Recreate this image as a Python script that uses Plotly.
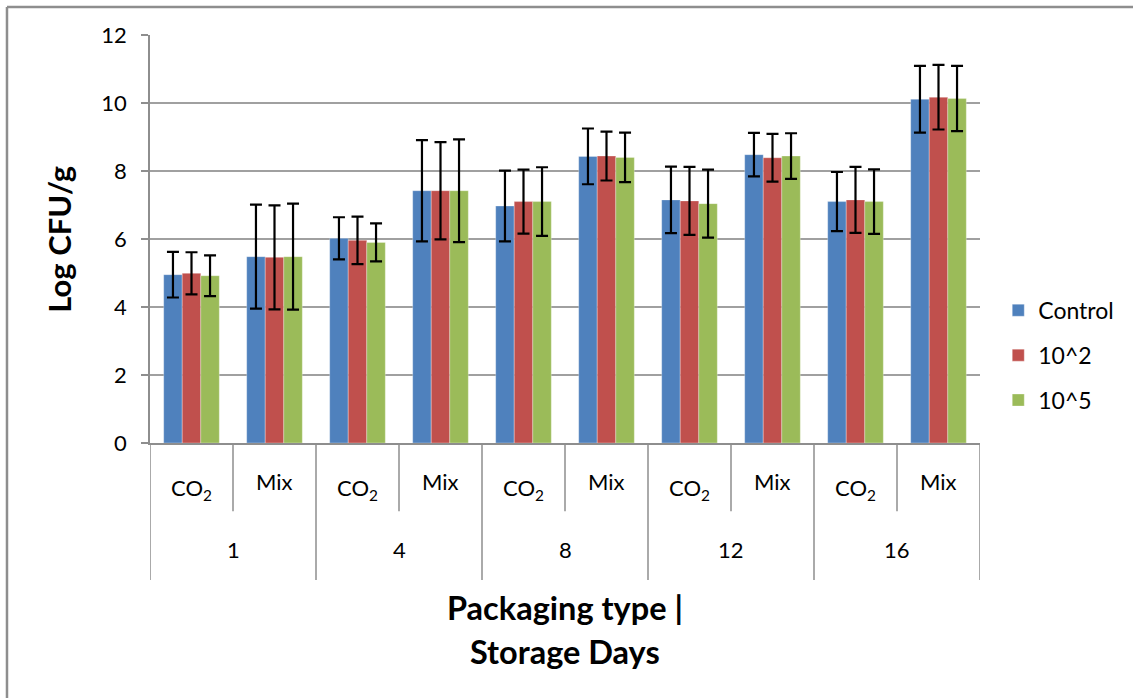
import plotly.graph_objects as go

days = ["1", "4", "8", "12", "16"]
packaging = ["CO<sub>2</sub>", "Mix"]
series_names = ["Control", "10^2", "10^5"]
colors = ["#4F81BD", "#C0504D", "#9BBB59"]

control = [4.95, 5.48, 6.02, 7.42, 6.97, 8.43, 7.15, 8.48, 7.10, 10.11]
control_err = [0.67, 1.53, 0.62, 1.49, 1.04, 0.82, 0.98, 0.64, 0.87, 0.98]
e2 = [4.99, 5.46, 5.96, 7.42, 7.10, 8.44, 7.12, 8.39, 7.15, 10.17]
e2_err = [0.62, 1.53, 0.70, 1.43, 0.94, 0.72, 1.00, 0.70, 0.97, 0.95]
e5 = [4.92, 5.48, 5.90, 7.42, 7.10, 8.40, 7.04, 8.44, 7.10, 10.13]
e5_err = [0.60, 1.56, 0.56, 1.51, 1.01, 0.73, 1.00, 0.67, 0.95, 0.96]

y_ticks = [0, 2, 4, 6, 8, 10, 12]

FONT = "Lato, 'Open Sans', sans-serif"
GRAY = "#8e8e8e"

n = len(days) * len(packaging)
xpos = list(range(n))

fig = go.Figure()
for name, vals, errs, col in zip(series_names, [control, e2, e5],
                                 [control_err, e2_err, e5_err], colors):
    fig.add_trace(go.Bar(
        x=xpos, y=vals, name=name, legendgroup=name,
        marker=dict(color=col, line=dict(width=0.6, color="rgba(255,255,255,0.5)")),
        error_y=dict(type="data", array=errs, visible=True,
                     color="black", thickness=2.2, width=6),
    ))

shapes = []
# category divider lines below the axis
for i in range(n + 1):
    outer = (i % len(packaging) == 0)
    shapes.append(dict(type="line", xref="x", yref="paper",
                       x0=i - 0.5, x1=i - 0.5, y0=0,
                       y1=-0.336 if outer else -0.167,
                       line=dict(color=GRAY, width=1.5)))
# outer frame
shapes.append(dict(type="line", xref="paper", yref="paper",
                   x0=-0.1723, x1=-0.1723, y0=1.0686, y1=-0.63,
                   line=dict(color=GRAY, width=2.5)))
shapes.append(dict(type="line", xref="paper", yref="paper",
                   x0=-0.1723, x1=1.19, y0=1.0686, y1=1.0686,
                   line=dict(color=GRAY, width=2.5)))

annotations = []
for d_i, d in enumerate(days):
    for p_i, p in enumerate(packaging):
        idx = d_i * len(packaging) + p_i
        annotations.append(dict(
            x=idx, y=-0.094 if p_i == 1 else -0.113, xref="x", yref="paper",
            text=p, showarrow=False, yanchor="middle",
            font=dict(size=22, color="black", family=FONT)))
    annotations.append(dict(
        x=d_i * len(packaging) + (len(packaging) - 1) / 2, y=-0.262,
        xref="x", yref="paper", text=d, showarrow=False, yanchor="middle",
        font=dict(size=22, color="black", family=FONT)))

annotations.append(dict(x=0.5, y=-0.402, xref="paper", yref="paper",
                        text="<b>Packaging type |</b>", showarrow=False,
                        yanchor="middle",
                        font=dict(size=32.5, color="black", family=FONT)))
annotations.append(dict(x=0.5, y=-0.512, xref="paper", yref="paper",
                        text="<b>Storage Days</b>", showarrow=False,
                        yanchor="middle",
                        font=dict(size=32.5, color="black", family=FONT)))
annotations.append(dict(x=-0.11, y=0.5, xref="paper", yref="paper",
                        text="<b>Log CFU/g</b>", showarrow=False, textangle=-90,
                        xanchor="center", yanchor="middle",
                        font=dict(size=31, color="black", family=FONT)))

fig.update_layout(
    width=1133, height=698,
    margin=dict(l=150, r=153, t=35, b=255),
    paper_bgcolor="white", plot_bgcolor="white",
    barmode="group", bargap=0.33, bargroupgap=0,
    font=dict(family=FONT, color="black"),
    showlegend=True,
    legend=dict(x=1.022, y=0.215, xanchor="left", yanchor="middle",
                traceorder="grouped", tracegroupgap=12,
                font=dict(size=23, color="black", family=FONT),
                itemwidth=30),
    shapes=shapes,
    annotations=annotations,
)
fig.update_xaxes(range=[-0.5, n - 0.5], showticklabels=False, ticks="",
                 showgrid=False, showline=True, linecolor=GRAY, linewidth=1.5,
                 zeroline=False)
fig.update_yaxes(range=[0, 12], tickvals=y_ticks, ticks="outside", ticklen=7,
                 tickcolor=GRAY, tickwidth=1.5, showline=True, linecolor=GRAY,
                 linewidth=1.5, showgrid=True, gridcolor="#a0a0a0", gridwidth=1.5,
                 zeroline=False, tickfont=dict(size=22, color="black", family=FONT),
                 ticklabelstandoff=10)

fig.write_html("out.html", config={"displayModeBar": False},
               post_script="document.body.style.margin='0px';document.body.style.padding='0px';")
